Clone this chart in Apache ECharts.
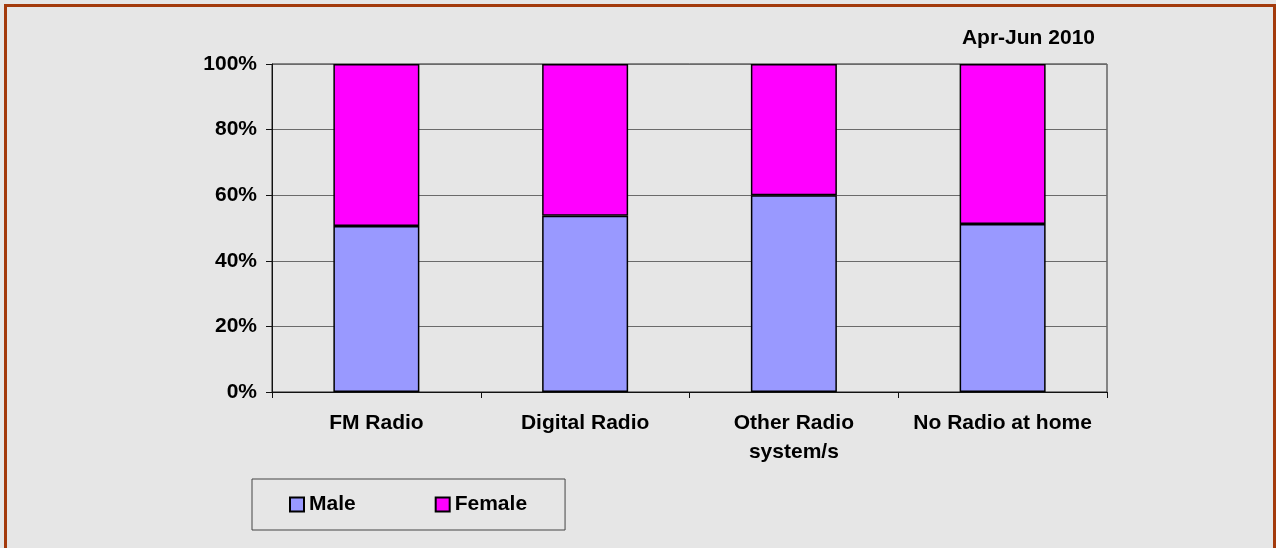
<!DOCTYPE html>
<html>
<head>
<meta charset="utf-8">
<script src="https://cdn.jsdelivr.net/npm/echarts@6/dist/echarts.min.js"></script>
<style>
  html, body { margin: 0; padding: 0; background: #e6e6e6; }
  #chart { width: 1276px; height: 548px; }
</style>
</head>
<body>
<div id="chart"></div>
<script>
const categories = ['FM Radio', 'Digital Radio', 'Other Radio\nsystem/s', 'No Radio at home']
const maleShare = [50.6, 53.7, 60.0, 51.2]
const femaleShare = [49.4, 46.3, 40.0, 48.8]
const yTicks = [0, 20, 40, 60, 80, 100]

const chart = echarts.init(document.getElementById('chart'))

const labelFont = {
  color: '#000',
  fontFamily: 'Liberation Sans, Arial, sans-serif',
  fontWeight: 'bold',
  fontSize: 21
}

const option = {
  backgroundColor: '#e6e6e6',
  animation: false,
  title: {
    text: 'Apr-Jun 2010',
    right: 176,
    top: 23,
    textStyle: labelFont
  },
  graphic: [
    {
      type: 'rect',
      shape: { x: 5.5, y: 5.5, width: 1269, height: 560 },
      style: { fill: 'none', stroke: '#a33a0c', lineWidth: 3 },
      silent: true
    }
  ],
  legend: {
    data: ['Male', 'Female'],
    left: 252,
    top: 479,
    orient: 'horizontal',
    padding: [15, 38, 15, 37],
    itemGap: 79,
    itemWidth: 14,
    itemHeight: 14,
    icon: 'rect',
    borderColor: '#444',
    borderWidth: 1,
    textStyle: labelFont
  },
  grid: {
    left: 272,
    right: 169,
    top: 64,
    bottom: 156,
    show: true,
    borderColor: '#222',
    borderWidth: 1
  },
  xAxis: {
    type: 'category',
    data: categories,
    axisLine: { lineStyle: { color: '#111', width: 1 } },
    axisTick: { show: true, interval: 0, length: 6, lineStyle: { color: '#111' } },
    axisLabel: Object.assign({}, labelFont, {
      interval: 0,
      hideOverlap: false,
      margin: 17,
      lineHeight: 29
    })
  },
  yAxis: {
    type: 'value',
    min: yTicks[0],
    max: yTicks[yTicks.length - 1],
    interval: 20,
    axisLine: { show: true, lineStyle: { color: '#111', width: 1 } },
    axisTick: { show: true, length: 6, lineStyle: { color: '#111' } },
    axisLabel: Object.assign({}, labelFont, {
      margin: 15,
      formatter: '{value}%'
    }),
    splitLine: { lineStyle: { color: '#6a6a6a', width: 1.2 } }
  },
  series: [
    {
      name: 'Male',
      type: 'bar',
      stack: 'share',
      data: maleShare,
      barWidth: 86,
      itemStyle: { color: '#9999ff', borderColor: '#000', borderWidth: 1.5 }
    },
    {
      name: 'Female',
      type: 'bar',
      stack: 'share',
      data: femaleShare,
      barWidth: 86,
      itemStyle: { color: '#ff00ff', borderColor: '#000', borderWidth: 1.5 }
    }
  ]
}

chart.setOption(option)
</script>
</body>
</html>
